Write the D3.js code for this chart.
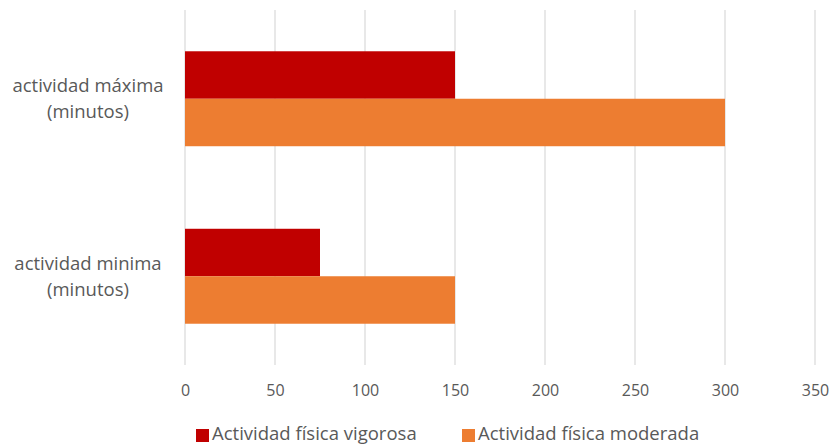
<!DOCTYPE html>
<html>
<head>
<meta charset="utf-8">
<script src="https://cdn.jsdelivr.net/npm/d3@7"></script>
<style>
  body { margin: 0; background: #fff; }
  svg text { font-family: "Open Sans", "DejaVu Sans", sans-serif; fill: #595959; }
</style>
</head>
<body>
<svg id="chart" width="833" height="447"></svg>
<script>
// Categories (top to bottom) and the two series of minutes
const categories = ["actividad máxima (minutos)", "actividad minima (minutos)"];
const categoryLines = [["actividad máxima", "(minutos)"], ["actividad minima", "(minutos)"]];
const seriesNames = ["Actividad física vigorosa", "Actividad física moderada"];
const vigorosa = [150, 75];
const moderada = [300, 150];
const xTicks = [0, 50, 100, 150, 200, 250, 300, 350];
const colors = ["#C00000", "#ED7D31"];

const svg = d3.select("#chart");
const plot = { left: 185, right: 815, top: 10, bottom: 365 };

const x = d3.scaleLinear().domain([0, 350]).range([plot.left, plot.right]);
const y = d3.scaleBand().domain(categories).range([plot.top, plot.bottom]).paddingInner(0.465).paddingOuter(0.2325);
const ySub = d3.scaleBand().domain(seriesNames).range([0, y.bandwidth()]);

// vertical gridlines
svg.append("g")
  .selectAll("line")
  .data(xTicks)
  .join("line")
  .attr("x1", d => x(d)).attr("x2", d => x(d))
  .attr("y1", plot.top).attr("y2", plot.bottom)
  .attr("stroke", "#d9d9d9")
  .attr("stroke-width", 1.2);

// bars
const values = [vigorosa, moderada];
const groups = svg.append("g")
  .selectAll("g")
  .data(categories)
  .join("g")
  .attr("transform", d => `translate(0,${y(d)})`);

groups.selectAll("rect")
  .data((d, i) => seriesNames.map((s, k) => ({ s, v: values[k][i], k })))
  .join("rect")
  .attr("x", x(0))
  .attr("y", d => ySub(d.s))
  .attr("width", d => x(d.v) - x(0))
  .attr("height", ySub.bandwidth())
  .attr("fill", d => colors[d.k]);

// x axis tick labels
const xAxis = d3.axisBottom(x).tickValues(xTicks).tickSize(0).tickPadding(0);
const gx = svg.append("g")
  .attr("transform", `translate(0,${plot.bottom + 20})`)
  .call(xAxis);
gx.select(".domain").remove();
gx.selectAll("text")
  .attr("font-size", 16)
  .attr("dy", "0.71em")
  .style("font-family", null);

// category labels
const yLab = svg.append("g");
categories.forEach((c, i) => {
  const cy = y(c) + y.bandwidth() / 2;
  const t = yLab.append("text")
    .attr("x", 88)
    .attr("y", cy - 13)
    .attr("text-anchor", "middle")
    .attr("font-size", 18.5);
  categoryLines[i].forEach((line, j) => {
    t.append("tspan").attr("x", 88).attr("dy", j === 0 ? "0.35em" : 26).text(line);
  });
});

// legend
const legend = svg.append("g").attr("transform", "translate(196,434)");
const legendX = [0, 266];
seriesNames.forEach((s, i) => {
  const g = legend.append("g").attr("transform", `translate(${legendX[i]},0)`);
  g.append("rect").attr("x", 0).attr("y", -5).attr("width", 13).attr("height", 13).attr("fill", colors[i]);
  g.append("text").attr("x", 16).attr("y", 0).attr("dy", "0.35em").attr("font-size", 18.5).text(s);
});
</script>
</body>
</html>
